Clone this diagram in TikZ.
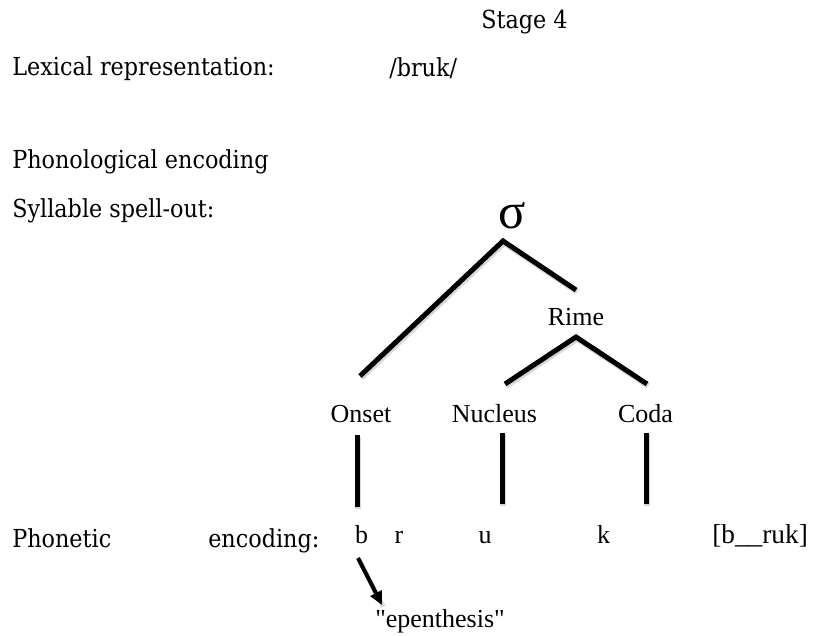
\documentclass[tikz,border=0pt]{standalone}
\usepackage{fontspec}
\setmainfont{Liberation Serif}
\newfontfamily\labelfont{DejaVu Serif Condensed}
\usetikzlibrary{arrows.meta}
% straight double quote, set as a glyph so the TeX text mapping leaves it alone
\newcommand{\straightquote}{\XeTeXglyph\XeTeXcharglyph34\relax}

\begin{document}
\begin{tikzpicture}[x=0.75pt,y=-0.75pt,
  lbl/.style={font=\labelfont\fontsize{18.6}{22}\selectfont, anchor=base west, inner sep=0pt},
  tree/.style={font=\fontsize{19.5}{23}\selectfont, anchor=base, inner sep=0pt},
  seg/.style={font=\fontsize{19.5}{23}\selectfont, anchor=base, inner sep=0pt},
  branch/.style={line width=3.75pt, line join=miter,
    preaction={draw=black!35, draw opacity=0.45, line width=4.5pt,
      transform canvas={shift={(0.9pt,-1.3pt)}}}},
  pointer/.style={line width=3pt, -{Triangle[length=10pt,width=9pt]},
    preaction={draw=black!35, draw opacity=0.45, line width=3.5pt, -,
      transform canvas={shift={(0.9pt,-1.3pt)}}}}]

\useasboundingbox (0,0) rectangle (813,635);

% left-hand stage labels
\node[lbl] (stage)   at (481,29)  {Stage 4};
\node[lbl] (lexical) at (12,75)   {Lexical representation:};
\node[lbl] (lexform) at (389,76)  {/bruk/};
\node[lbl] (phon)    at (12,168)  {Phonological encoding};
\node[lbl] (spell)   at (12,217)  {Syllable spell-out:};
\node[lbl] (phonet)  at (12,547)  {Phonetic};
\node[lbl] (enc)     at (208,547) {encoding:};

% syllable tree
\node[tree, font=\fontsize{38}{40}\selectfont] (sigma) at (512.5,228) {σ};
\node[tree] (rime)    at (576,325)   {Rime};
\node[tree] (onset)   at (361,422)   {Onset};
\node[tree] (nucleus) at (494.5,422) {Nucleus};
\node[tree] (coda)    at (645.5,422) {Coda};

% segments
\node[seg] (sb) at (361.5,543) {b};
\node[seg] (sr) at (399,543)   {r};
\node[seg] (su) at (485,543)   {u};
\node[seg] (sk) at (603.5,543) {k};
\node[seg, anchor=base west, font=\fontsize{20.5}{24}\selectfont] (surface) at (712,543) {[b\_\_ruk]};
\node[tree, anchor=base west] (epen) at (375,627) {\straightquote epenthesis\straightquote};

% branch end points
\coordinate (sigmaTop) at (503,241);
\coordinate (onsetUp)  at (360,376);
\coordinate (rimeUp)   at (576,290);
\coordinate (rimeTop)  at (576,337);
\coordinate (nucUp)    at (505,384);
\coordinate (codaUp)   at (647,384);
\coordinate (onsetDn)  at (357,435);
\coordinate (onsetSeg) at (357,507);
\coordinate (nucDn)    at (502,433);
\coordinate (nucSeg)   at (502,504);
\coordinate (codaDn)   at (646,433);
\coordinate (codaSeg)  at (646,504);
\coordinate (arrFrom)  at (358,558);
\coordinate (arrTo)    at (382,605);

\draw[branch] (onsetUp) -- (sigmaTop) -- (rimeUp);
\draw[branch] (nucUp) -- (rimeTop) -- (codaUp);
\draw[branch] (onsetDn) -- (onsetSeg);
\draw[branch] (nucDn) -- (nucSeg);
\draw[branch] (codaDn) -- (codaSeg);
\draw[pointer] (arrFrom) -- (arrTo);
\end{tikzpicture}
\end{document}
